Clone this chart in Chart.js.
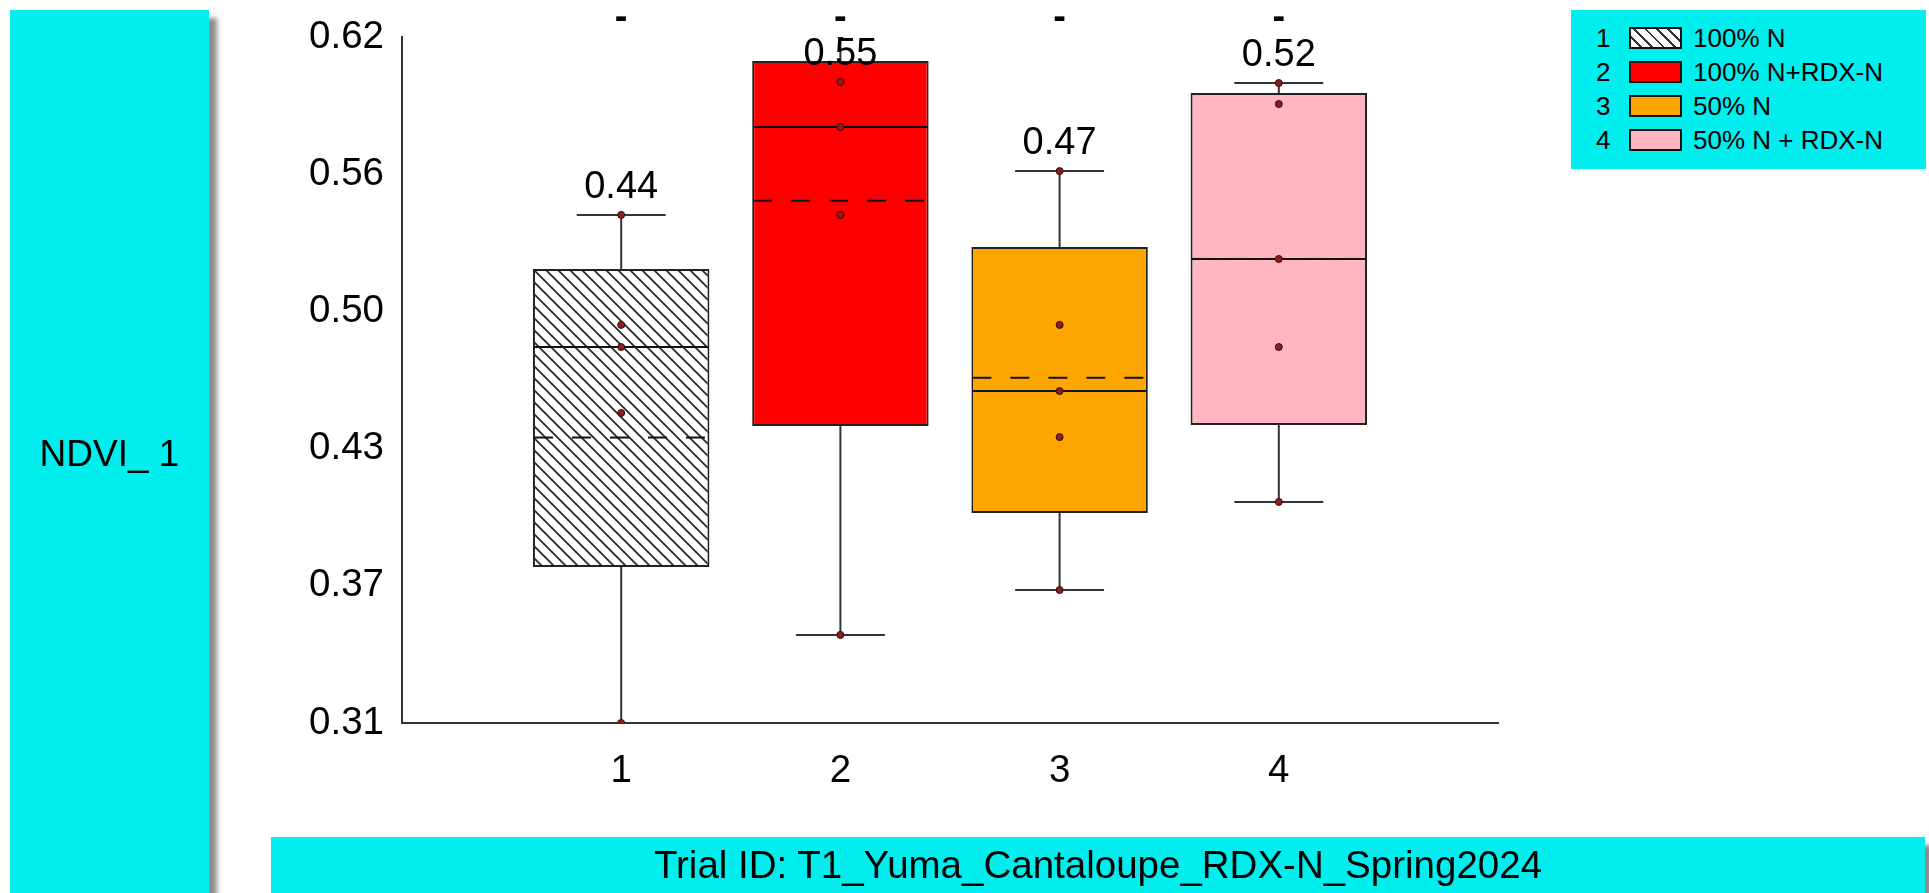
<!DOCTYPE html>
<html>
<head>
<meta charset="utf-8">
<script src="https://cdn.jsdelivr.net/npm/chart.js@4.4.1/dist/chart.umd.min.js"></script>
<style>
html,body{margin:0;padding:0;background:#fff;width:1929px;height:893px;overflow:hidden;font-family:"Liberation Sans",Arial,sans-serif;color:#000;}
#c{position:absolute;left:0;top:0;}
.panel{position:absolute;background:#00EEEE;}
.shadow{box-shadow:8px 8px 5px rgba(0,0,0,0.45);}
#ylab{left:10px;top:10px;width:199px;height:900px;}
#ylab span{position:absolute;left:0;width:100%;top:444px;transform:translateY(-50%);text-align:center;font-size:37px;white-space:pre;}
#xlab{left:271px;top:837px;width:1654px;height:70px;}
#xlab span{position:absolute;left:0;width:100%;top:28px;transform:translateY(-50%);text-align:center;font-size:38.5px;white-space:pre;}
#legend{left:1571px;top:10px;width:355px;height:159px;}
.row{position:absolute;left:0;height:34px;width:100%;}
.row .num{position:absolute;left:25px;top:50%;transform:translateY(-50%);font-size:26px;}
.row .sw{position:absolute;left:58px;top:50%;transform:translateY(-50%);width:49px;height:18px;border:2px solid #111;}
.row .lab{position:absolute;left:122px;top:50%;transform:translateY(-50%);font-size:26px;white-space:pre;}
</style>
</head>
<body>
<canvas id="c" width="1929" height="893"></canvas>
<div id="ylab" class="panel shadow"><span id="ylabText"></span></div>
<div id="xlab" class="panel shadow"><span id="xlabText"></span></div>
<div id="legend" class="panel"></div>
<script>
// ---------- data ----------
const categories   = ['1', '2', '3', '4'];
const seriesNames  = ['100% N', '100% N+RDX-N', '50% N', '50% N + RDX-N'];
const boxColors    = ['hatch', '#FF0000', '#FFA500', '#FFB6C1'];
const mins         = [0.3100, 0.3498, 0.3701, 0.4099];
const q1s          = [0.3805, 0.4442, 0.4049, 0.4447];
const medians      = [0.4799, 0.5793, 0.4600, 0.5197];
const q3s          = [0.5152, 0.6092, 0.5251, 0.5947];
const maxs         = [0.5396, 0.6210, 0.5594, 0.5992];
const means        = [0.439, 0.546, 0.466, 0.5197];
const points1      = [0.5396, 0.4899, 0.4799, 0.4501, 0.3100];
const points2      = [0.6210, 0.5997, 0.5793, 0.5396, 0.3498];
const points3      = [0.5594, 0.4899, 0.4600, 0.4392, 0.3701];
const points4      = [0.5992, 0.5897, 0.5197, 0.4799, 0.4099];
const sigMarks     = ['-', '-', '-', '-'];
const yTickValues  = [0.31, 0.372, 0.434, 0.496, 0.558, 0.62];
const yTickLabels  = ['0.31', '0.37', '0.43', '0.50', '0.56', '0.62'];
const yAxisTitle   = 'NDVI_ 1';
const xAxisTitle   = 'Trial ID: T1_Yuma_Cantaloupe_RDX-N_Spring2024';

const allPoints = [points1, points2, points3, points4];
const FONT = '"Liberation Sans", Arial, sans-serif';

document.getElementById('ylabText').textContent = yAxisTitle;
document.getElementById('xlabText').textContent = xAxisTitle;

// legend
const lg = document.getElementById('legend');
seriesNames.forEach((n, i) => {
  const r = document.createElement('div');
  r.className = 'row';
  r.style.top = (11 + i * 34) + 'px';
  const num = document.createElement('div'); num.className = 'num'; num.textContent = categories[i];
  const sw = document.createElement('div'); sw.className = 'sw';
  if (boxColors[i] === 'hatch') {
    sw.style.background = 'repeating-linear-gradient(45deg, #fff 0px, #fff 6px, #333 6px, #333 8px)';
  } else sw.style.background = boxColors[i];
  const lab = document.createElement('div'); lab.className = 'lab'; lab.textContent = n;
  r.appendChild(num); r.appendChild(sw); r.appendChild(lab);
  lg.appendChild(r);
});

const canvas = document.getElementById('c');
const ctx = canvas.getContext('2d');

function makeHatch() {
  const s = 12;
  const c = document.createElement('canvas'); c.width = s; c.height = s;
  const g = c.getContext('2d');
  g.fillStyle = '#fff'; g.fillRect(0, 0, s, s);
  g.strokeStyle = '#2a2a2a'; g.lineWidth = 1.8;
  g.beginPath();
  g.moveTo(-3, -3); g.lineTo(s + 3, s + 3);
  g.moveTo(-3, s - 3); g.lineTo(3, s + 3);
  g.moveTo(s - 3, -3); g.lineTo(s + 3, 3);
  g.stroke();
  return ctx.createPattern(c, 'repeat');
}
const hatch = makeHatch();
const fills = boxColors.map(c => c === 'hatch' ? hatch : c);

const boxPlugin = {
  id: 'boxExtras',
  afterDatasetDraw(chart, args) {
    if (args.index !== 0) return;
    const {ctx, chartArea: a, scales: {x, y}} = chart;
    const meta = chart.getDatasetMeta(0);
    ctx.save();
    ctx.beginPath();
    ctx.rect(a.left, a.top, a.right - a.left, a.bottom - a.top);
    ctx.clip();
    const line = (x1, y1, x2, y2) => { ctx.beginPath(); ctx.moveTo(x1, y1); ctx.lineTo(x2, y2); ctx.stroke(); };
    categories.forEach((c, i) => {
      const cx = x.getPixelForValue(i + 1);
      const bw = meta.data[i].width;
      const capHalf = bw * 0.252;
      ctx.setLineDash([]);
      ctx.strokeStyle = '#333'; ctx.lineWidth = 2;
      line(cx, y.getPixelForValue(q3s[i]), cx, y.getPixelForValue(maxs[i]));
      line(cx, y.getPixelForValue(q1s[i]), cx, y.getPixelForValue(mins[i]));
      line(cx - capHalf, y.getPixelForValue(maxs[i]), cx + capHalf, y.getPixelForValue(maxs[i]));
      line(cx - capHalf, y.getPixelForValue(mins[i]), cx + capHalf, y.getPixelForValue(mins[i]));
      ctx.strokeStyle = '#111';
      line(cx - bw / 2 + 1, y.getPixelForValue(medians[i]), cx + bw / 2 - 1, y.getPixelForValue(medians[i]));
      ctx.setLineDash([19, 19]);
      line(cx - bw / 2 + 1, y.getPixelForValue(means[i]), cx + bw / 2 - 1, y.getPixelForValue(means[i]));
    });
    ctx.restore();
  },
  afterDraw(chart) {
    const {ctx, chartArea: a, scales: {x, y}} = chart;
    ctx.save();
    ctx.fillStyle = '#000';
    ctx.textAlign = 'center';
    ctx.textBaseline = 'alphabetic';
    categories.forEach((c, i) => {
      const cx = x.getPixelForValue(i + 1);
      const capY = y.getPixelForValue(maxs[i]);
      const cy = Math.max(capY - 30, a.top + 15);
      ctx.font = '38px ' + FONT;
      ctx.fillText(means[i].toFixed(2), cx, cy + 13);
      ctx.font = 'bold 38px ' + FONT;
      ctx.fillText(sigMarks[i], cx, a.top - 8);
    });
    ctx.restore();
  }
};

new Chart(ctx, {
  type: 'bar',
  data: {
    datasets: [
      {
        type: 'bar',
        data: categories.map((c, i) => ({x: i + 1, y: [q1s[i], q3s[i]]})),
        backgroundColor: fills,
        borderColor: '#222',
        borderWidth: 2,
        borderSkipped: false,
        categoryPercentage: 1,
        barPercentage: 0.805,
        order: 2
      },
      {
        type: 'scatter',
        data: allPoints.flatMap((arr, i) => arr.map(v => ({x: i + 1, y: v}))),
        pointRadius: 3.5,
        pointBackgroundColor: '#8B1E1E',
        pointBorderColor: '#3b0a0a',
        pointBorderWidth: 1,
        order: 1
      }
    ]
  },
  options: {
    responsive: false,
    animation: false,
    devicePixelRatio: 1,
    layout: {padding: {left: 220, top: 37, right: 431, bottom: 90}},
    plugins: {legend: {display: false}, tooltip: {enabled: false}},
    scales: {
      x: {
        type: 'linear', min: 0, max: 5, offset: false,
        grid: {display: false},
        border: {display: true, color: '#333', width: 2},
        afterBuildTicks: s => { s.ticks = categories.map((c, i) => ({value: i + 1})); },
        afterFit: s => { s.height = 80; },
        ticks: {
          autoSkip: false, maxRotation: 0, padding: 17, color: '#000',
          font: {family: FONT, size: 38.5},
          callback: (v, idx) => categories[idx]
        }
      },
      y: {
        type: 'linear', min: 0.31, max: 0.62,
        grid: {display: false},
        border: {display: true, color: '#333', width: 2},
        afterBuildTicks: s => { s.ticks = yTickValues.map(v => ({value: v})); },
        afterFit: s => { s.width = 182; },
        ticks: {
          padding: 10, color: '#000',
          font: {family: FONT, size: 38.5},
          callback: (v, idx) => yTickLabels[idx]
        }
      }
    }
  },
  plugins: [boxPlugin]
});
</script>
</body>
</html>
